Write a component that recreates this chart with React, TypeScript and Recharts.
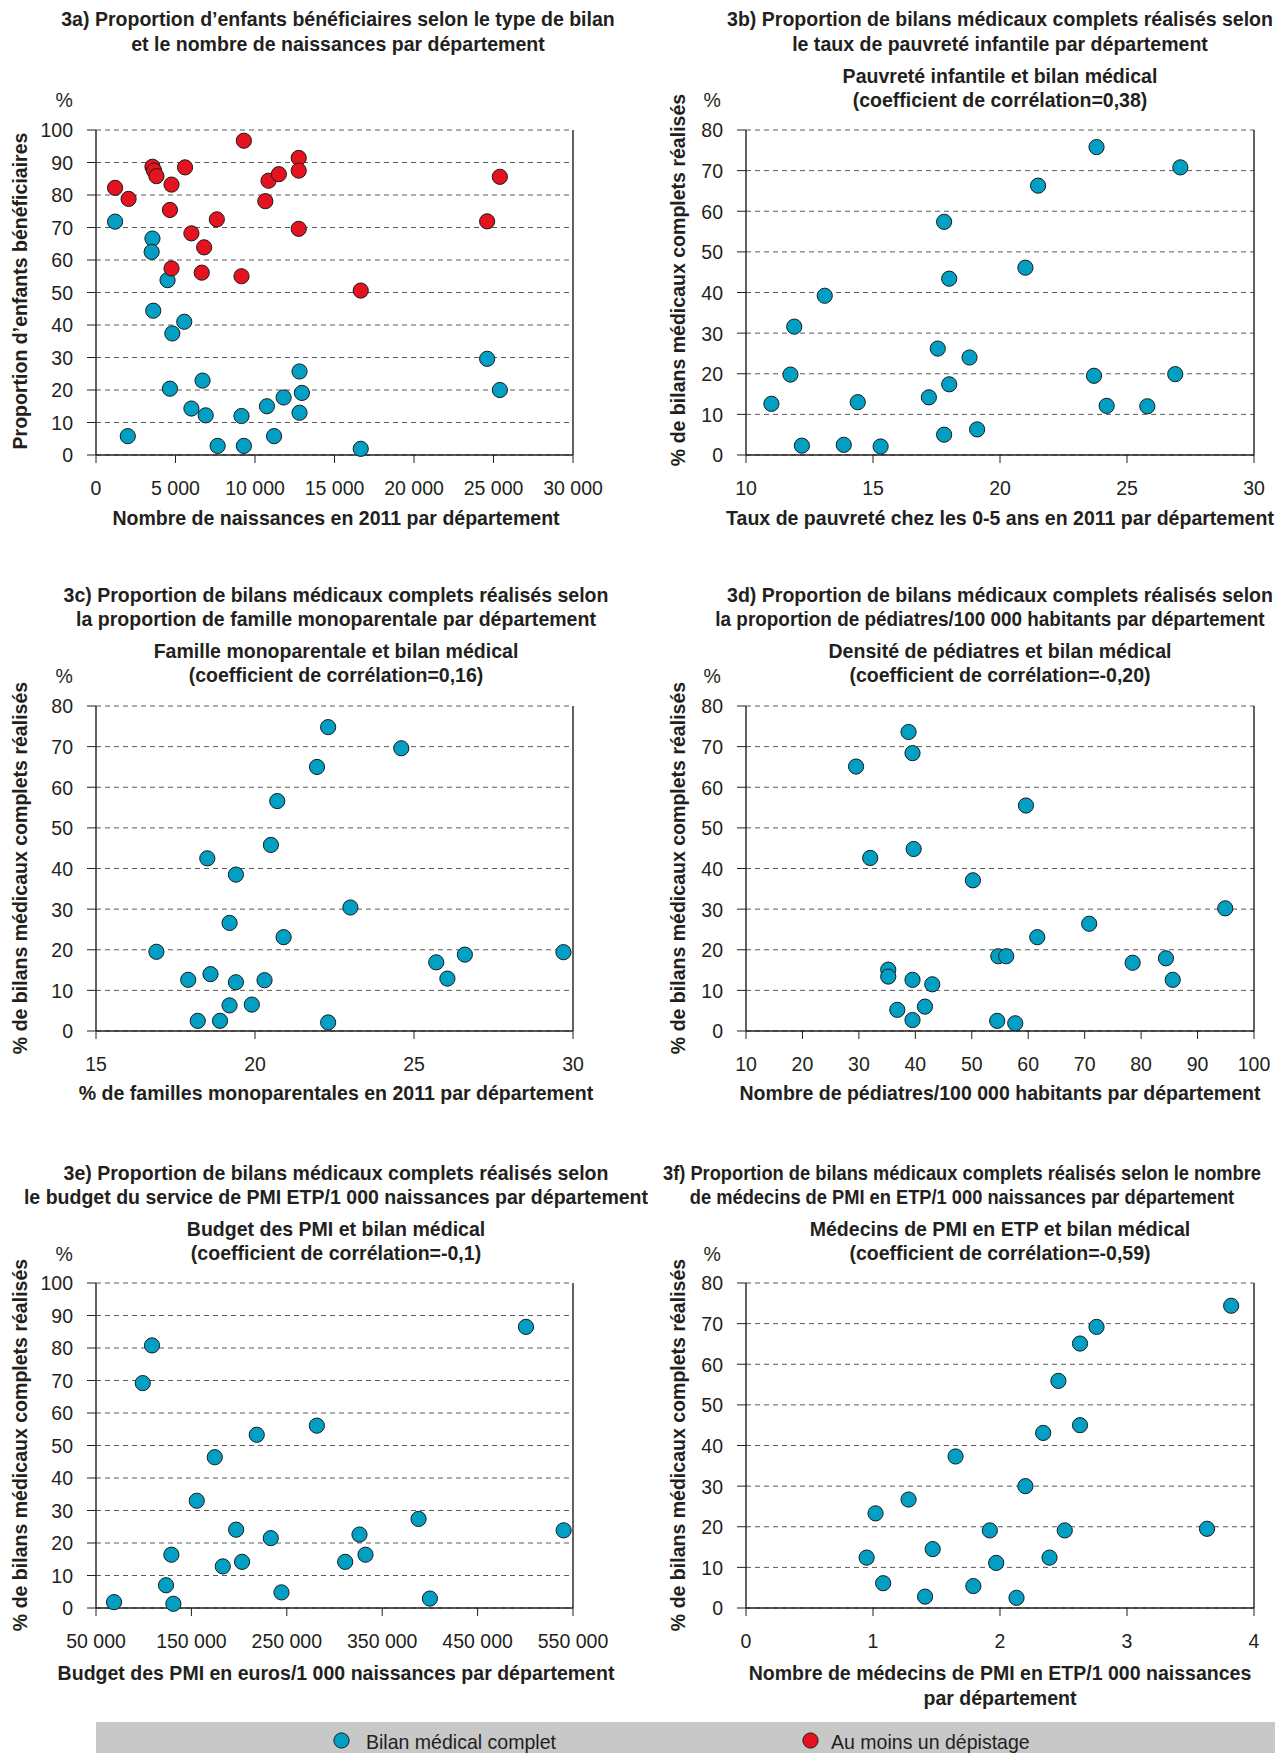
import { ScatterChart, Scatter, XAxis, YAxis, CartesianGrid, ReferenceLine } from "recharts";

// 3a) births per département vs share of children (two screening types)
const birthsBilan = [1200, 2000, 3550, 3500, 4500, 3600, 5550, 4800, 4650, 6700, 6000, 6900, 7650, 9150, 9300, 10750, 11200, 11800, 12800, 12950, 12800, 16650, 24600, 25400];
const propBilan = [71.8, 5.8, 66.6, 62.5, 53.8, 44.4, 41.0, 37.4, 20.4, 22.9, 14.3, 12.2, 2.8, 12.0, 2.8, 15.0, 5.8, 17.7, 25.7, 19.1, 13.0, 1.9, 29.6, 20.0];
const birthsDepistage = [1200, 2050, 3550, 3650, 3800, 4750, 4650, 4750, 5600, 6000, 6800, 6650, 7600, 9300, 9150, 10650, 10850, 11500, 12750, 12750, 12750, 16650, 24600, 25400];
const propDepistage = [82.2, 78.8, 88.7, 87.5, 85.8, 83.2, 75.4, 57.4, 88.5, 68.2, 63.9, 56.1, 72.5, 96.7, 55.0, 78.1, 84.4, 86.4, 91.4, 87.5, 69.6, 50.6, 71.9, 85.6];

// 3b) child poverty rate
const povertyRate = [11.0, 11.75, 11.9, 12.2, 13.1, 13.85, 14.4, 15.3, 17.2, 17.55, 17.8, 17.8, 18.0, 18.0, 18.8, 19.1, 21.0, 21.5, 23.7, 23.8, 24.2, 25.8, 26.9, 27.1];
const bilanPoverty = [12.6, 19.8, 31.6, 2.3, 39.2, 2.5, 13.0, 2.1, 14.2, 26.2, 57.4, 5.0, 43.4, 17.4, 24.0, 6.3, 46.1, 66.3, 19.5, 75.8, 12.1, 12.0, 19.9, 70.8];

// 3c) single-parent families
const monoparental = [16.9, 17.9, 18.2, 18.5, 18.6, 18.9, 19.2, 19.2, 19.4, 19.4, 19.9, 20.3, 20.5, 20.7, 20.9, 21.95, 22.3, 22.3, 23.0, 24.6, 25.7, 26.05, 26.6, 29.7];
const bilanMono = [19.5, 12.6, 2.5, 42.5, 14.0, 2.5, 26.6, 6.3, 38.5, 12.0, 6.5, 12.5, 45.8, 56.6, 23.1, 65.0, 74.8, 2.1, 30.4, 69.6, 16.9, 12.9, 18.8, 19.4];

// 3d) paediatricians per 100 000
const pediatres = [29.5, 32.0, 38.8, 39.5, 39.7, 50.2, 59.6, 35.2, 35.2, 36.8, 39.5, 39.5, 43.0, 41.7, 54.7, 56.1, 54.5, 57.7, 61.6, 70.8, 78.5, 84.4, 85.6, 94.9];
const bilanPed = [65.1, 42.6, 73.6, 68.4, 44.8, 37.1, 55.5, 15.1, 13.4, 5.2, 12.6, 2.7, 11.5, 6.0, 18.4, 18.4, 2.5, 1.9, 23.1, 26.4, 16.8, 17.9, 12.6, 30.2];

// 3e) PMI budget per 1 000 births
const budgetPmi = [68900, 108700, 99000, 123400, 131100, 129000, 155600, 174500, 182900, 196900, 203100, 218500, 233200, 244400, 281500, 311200, 326200, 332500, 388100, 400000, 500700, 540200];
const bilanBudget = [1.8, 80.8, 69.2, 7.0, 1.3, 16.4, 33.0, 46.4, 12.8, 24.1, 14.2, 53.3, 21.5, 4.8, 56.1, 14.2, 22.6, 16.4, 27.4, 2.9, 86.5, 23.9];

// 3f) PMI doctors (FTE) per 1 000 births
const medecinsPmi = [0.95, 1.02, 1.08, 1.28, 1.41, 1.47, 1.65, 1.79, 1.92, 1.97, 2.13, 2.2, 2.34, 2.39, 2.46, 2.51, 2.63, 2.63, 2.76, 3.63, 3.82];
const bilanMedecins = [12.4, 23.3, 6.1, 26.7, 2.8, 14.5, 37.3, 5.4, 19.1, 11.1, 2.5, 30.0, 43.1, 12.4, 55.9, 19.1, 45.0, 65.1, 69.2, 19.5, 74.4];

const ticks100 = [0, 10, 20, 30, 40, 50, 60, 70, 80, 90, 100];
const ticks80 = [0, 10, 20, 30, 40, 50, 60, 70, 80];

const FONT = "'Liberation Sans', Arial, sans-serif";
const SQUEEZE = 0.93;
const BLUE = "#009fc3";
const RED = "#e5121f";
const INK = "#231f20";

const spaced = (n: number) => String(n).replace(/\B(?=(\d{3})+(?!\d))/g, " ");
const plain = (n: number) => String(n);
const pairs = (xs: number[], ys: number[]) => xs.map((x, i) => ({ x, y: ys[i] }));

const dot = (fill: string) => (p: any) => (
  <circle cx={p.cx} cy={p.cy} r={7.6} fill={fill} stroke="#1b1b1b" strokeWidth={1} />
);

// narrow tick text, like the condensed face of the original
const tick = (fmt: (n: number) => string, dy: string) => (p: any) => (
  <g transform={`translate(${p.x},${p.y}) scale(${SQUEEZE},1)`}>
    <text textAnchor={p.textAnchor} dy={dy} fontSize={21} fill={INK} fontFamily={FONT}>
      {fmt(p.payload.value)}
    </text>
  </g>
);

interface PanelProps {
  side: "left" | "right";
  plotTop: number;
  xMin: number;
  xMax: number;
  xTicks: number[];
  yTicks: number[];
  series: { data: { x: number; y: number }[]; fill: string }[];
  fmt?: (n: number) => string;
}

function Panel({ side, plotTop, xMin, xMax, xTicks, yTicks, series, fmt = plain }: PanelProps) {
  const top = 20;
  const plotH = 325;
  const axisH = 60;
  const left = side === "left" ? 0 : 650;
  const width = side === "left" ? 613 : 625;
  const right = side === "left" ? 40 : 21;
  return (
    <div style={{ position: "absolute", left, top: plotTop - top }}>
      <ScatterChart width={width} height={top + plotH + axisH} margin={{ top, right, bottom: 0, left: 0 }}>
        <CartesianGrid vertical={false} strokeDasharray="5 4" stroke="#5a5a5a" />
        <XAxis
          type="number"
          dataKey="x"
          domain={[xMin, xMax]}
          ticks={xTicks}
          interval={0}
          height={axisH}
          tickSize={8}
          tickMargin={17}
          tick={tick(fmt, "0.71em")}
          axisLine={{ stroke: INK, strokeWidth: 1.4 }}
          tickLine={{ stroke: INK }}
          allowDataOverflow
        />
        <YAxis
          type="number"
          dataKey="y"
          domain={[0, yTicks[yTicks.length - 1]]}
          ticks={yTicks}
          interval={0}
          width={96}
          tickSize={9}
          tickMargin={14}
          tick={tick(plain, "0.355em")}
          axisLine={{ stroke: INK, strokeWidth: 1.4 }}
          tickLine={{ stroke: INK }}
        />
        <ReferenceLine x={xMax} stroke={INK} strokeWidth={1.4} />
        {series.map((s, i) => (
          <Scatter key={i} data={s.data} shape={dot(s.fill)} isAnimationActive={false} />
        ))}
      </ScatterChart>
    </div>
  );
}

function T({ x, y, text, bold = false, align = "center", rotate = false, squeeze = SQUEEZE }: any) {
  const tx = align === "center" ? "-50%" : align === "right" ? "-100%" : "0";
  const origin = align === "center" ? "center" : align === "right" ? "right center" : "left center";
  return (
    <div
      style={{
        position: "absolute",
        left: x,
        top: y,
        transform: `translate(${tx}, -50%)${rotate ? " rotate(-90deg)" : ""} scaleX(${squeeze})`,
        transformOrigin: origin,
        fontFamily: FONT,
        fontSize: 21,
        fontWeight: bold ? 700 : 400,
        color: INK,
        whiteSpace: "nowrap",
        lineHeight: 1,
      }}
    >
      {text}
    </div>
  );
}

const LC = 336;
const RC = 1000;

export default function App() {
  return (
    <div style={{ position: "absolute", left: 0, top: 0, width: 1275, height: 1753, background: "#fff", overflow: "hidden" }}>
      {/* 3a */}
      <T x={338} y={18} bold text="3a) Proportion d’enfants bénéficiaires selon le type de bilan" />
      <T x={338} y={43} bold text="et le nombre de naissances par département" />
      <T x={73} y={99} align="right" text="%" />
      <T x={19} y={291} bold rotate text="Proportion d’enfants bénéficiaires" />
      <Panel
        side="left"
        plotTop={129.5}
        xMin={0}
        xMax={30000}
        xTicks={[0, 5000, 10000, 15000, 20000, 25000, 30000]}
        yTicks={ticks100}
        fmt={spaced}
        series={[
          { data: pairs(birthsBilan, propBilan), fill: BLUE },
          { data: pairs(birthsDepistage, propDepistage), fill: RED },
        ]}
      />
      <T x={LC} y={517} bold text="Nombre de naissances en 2011 par département" />

      {/* 3b */}
      <T x={RC} y={18} bold text="3b) Proportion de bilans médicaux complets réalisés selon" />
      <T x={RC} y={43} bold text="le taux de pauvreté infantile par département" />
      <T x={RC} y={75} bold text="Pauvreté infantile et bilan médical" />
      <T x={RC} y={99} bold text="(coefficient de corrélation=0,38)" />
      <T x={721} y={99} align="right" text="%" />
      <T x={677} y={280} bold rotate text="% de bilans médicaux complets réalisés" />
      <Panel
        side="right"
        plotTop={129.5}
        xMin={10}
        xMax={30}
        xTicks={[10, 15, 20, 25, 30]}
        yTicks={ticks80}
        series={[{ data: pairs(povertyRate, bilanPoverty), fill: BLUE }]}
      />
      <T x={RC} y={517} bold text="Taux de pauvreté chez les 0-5 ans en 2011 par département" />

      {/* 3c */}
      <T x={LC} y={594} bold text="3c) Proportion de bilans médicaux complets réalisés selon" />
      <T x={LC} y={618} bold text="la proportion de famille monoparentale par département" />
      <T x={LC} y={650} bold text="Famille monoparentale et bilan médical" />
      <T x={LC} y={674} bold text="(coefficient de corrélation=0,16)" />
      <T x={73} y={675} align="right" text="%" />
      <T x={19} y={868} bold rotate text="% de bilans médicaux complets réalisés" />
      <Panel
        side="left"
        plotTop={705.5}
        xMin={15}
        xMax={30}
        xTicks={[15, 20, 25, 30]}
        yTicks={ticks80}
        series={[{ data: pairs(monoparental, bilanMono), fill: BLUE }]}
      />
      <T x={LC} y={1092} bold text="% de familles monoparentales en 2011 par département" />

      {/* 3d */}
      <T x={RC} y={594} bold text="3d) Proportion de bilans médicaux complets réalisés selon" />
      <T x={990} y={618} bold squeeze={0.9} text="la proportion de pédiatres/100 000 habitants par département" />
      <T x={RC} y={650} bold text="Densité de pédiatres et bilan médical" />
      <T x={RC} y={674} bold text="(coefficient de corrélation=-0,20)" />
      <T x={721} y={675} align="right" text="%" />
      <T x={677} y={868} bold rotate text="% de bilans médicaux complets réalisés" />
      <Panel
        side="right"
        plotTop={705.5}
        xMin={10}
        xMax={100}
        xTicks={[10, 20, 30, 40, 50, 60, 70, 80, 90, 100]}
        yTicks={ticks80}
        series={[{ data: pairs(pediatres, bilanPed), fill: BLUE }]}
      />
      <T x={RC} y={1092} bold text="Nombre de pédiatres/100 000 habitants par département" />

      {/* 3e */}
      <T x={LC} y={1172} bold text="3e) Proportion de bilans médicaux complets réalisés selon" />
      <T x={LC} y={1196} bold text="le budget du service de PMI ETP/1 000 naissances par département" />
      <T x={LC} y={1228} bold text="Budget des PMI et bilan médical" />
      <T x={LC} y={1252} bold text="(coefficient de corrélation=-0,1)" />
      <T x={73} y={1253} align="right" text="%" />
      <T x={19} y={1445} bold rotate text="% de bilans médicaux complets réalisés" />
      <Panel
        side="left"
        plotTop={1283}
        xMin={50000}
        xMax={550000}
        xTicks={[50000, 150000, 250000, 350000, 450000, 550000]}
        yTicks={ticks100}
        fmt={spaced}
        series={[{ data: pairs(budgetPmi, bilanBudget), fill: BLUE }]}
      />
      <T x={LC} y={1672} bold text="Budget des PMI en euros/1 000 naissances par département" />

      {/* 3f */}
      <T x={962} y={1172} bold squeeze={0.87} text="3f) Proportion de bilans médicaux complets réalisés selon le nombre" />
      <T x={962} y={1196} bold squeeze={0.87} text="de médecins de PMI en ETP/1 000 naissances par département" />
      <T x={RC} y={1228} bold text="Médecins de PMI en ETP et bilan médical" />
      <T x={RC} y={1252} bold text="(coefficient de corrélation=-0,59)" />
      <T x={721} y={1253} align="right" text="%" />
      <T x={677} y={1445} bold rotate text="% de bilans médicaux complets réalisés" />
      <Panel
        side="right"
        plotTop={1283}
        xMin={0}
        xMax={4}
        xTicks={[0, 1, 2, 3, 4]}
        yTicks={ticks80}
        series={[{ data: pairs(medecinsPmi, bilanMedecins), fill: BLUE }]}
      />
      <T x={RC} y={1672} bold text="Nombre de médecins de PMI en ETP/1 000 naissances" />
      <T x={RC} y={1697} bold text="par département" />

      {/* legend */}
      <div style={{ position: "absolute", left: 96, top: 1722, width: 1179, height: 31, background: "#c8c8c8" }} />
      <svg style={{ position: "absolute", left: 333, top: 1732 }} width={17} height={17}>
        <circle cx={8.5} cy={8.5} r={7.6} fill={BLUE} stroke="#1b1b1b" strokeWidth={1} />
      </svg>
      <T x={366} y={1741} align="left" text="Bilan médical complet" />
      <svg style={{ position: "absolute", left: 802, top: 1732 }} width={17} height={17}>
        <circle cx={8.5} cy={8.5} r={7.6} fill={RED} stroke="#1b1b1b" strokeWidth={1} />
      </svg>
      <T x={831} y={1741} align="left" text="Au moins un dépistage" />
    </div>
  );
}
